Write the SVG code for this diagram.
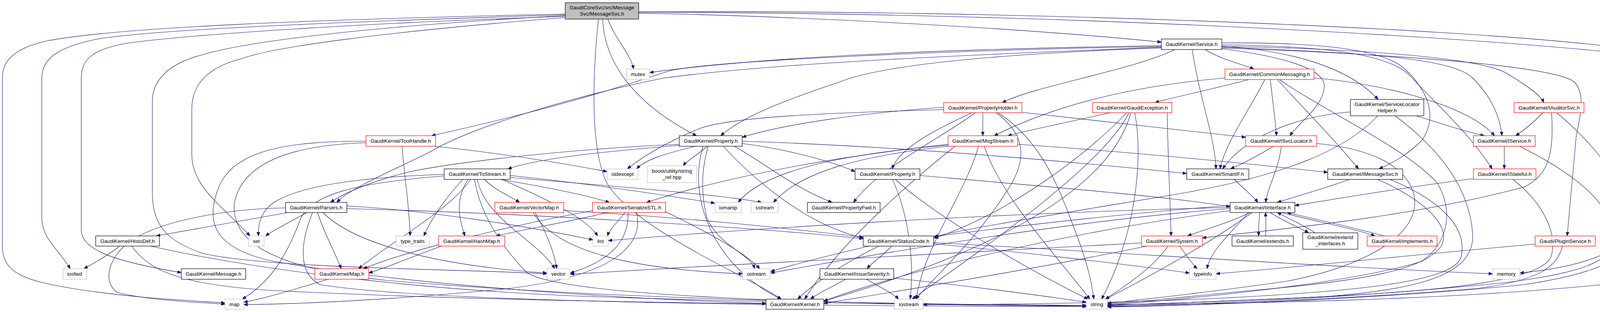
<svg xmlns="http://www.w3.org/2000/svg" width="4356" height="800" viewBox="0 0 4356 800">
<style>
.e path{fill:none;stroke:#191970;stroke-width:1.1;marker-end:url(#a)}
rect{fill:#fff;stroke:#000;stroke-width:1.2}
.r rect{stroke:#f00}
.g rect{stroke:#bfbfbf}
.root rect{fill:#bfbfbf}
text{font-family:"Liberation Sans",Arial,Helvetica,sans-serif;font-size:13.3px;text-anchor:middle;fill:#000}
</style>
<defs>
<marker id="a" markerUnits="userSpaceOnUse" markerWidth="11" markerHeight="8" refX="10" refY="4" orient="auto"><path d="M0,0 L10,4 L0,8 z" fill="#191970" stroke="#191970"/></marker>
</defs>
<rect x="0" y="0" width="4356" height="800" style="fill:#fff;stroke:none"/>
<g id="edges" class="e">
<path d="M1556,49 C1575,100 1615,140 1622,177"/>
<path d="M1635,34 C2000,40 2600,70 2973,108"/>
<path d="M1543,49 C1548,180 1650,280 1783,348"/>
<path d="M1447,36 C800,50 300,70 120,105 C30,125 6,160 6,200 L6,630 C6,700 60,720 200,742 C350,765 480,770 576,777"/>
<path d="M1447,38 C900,55 400,75 250,100 C150,120 107,150 107,200 L107,560 C107,610 150,640 180,689"/>
<path d="M1447,42 C900,60 480,90 330,110 C240,125 208,150 208,200 L208,590 C208,640 290,670 464,699"/>
<path d="M1447,40 C900,70 620,110 520,140 C440,160 390,200 390,260 L390,500 C392,580 430,620 520,650 C700,690 1200,690 1400,702"/>
<path d="M1447,45 C1000,80 700,120 620,150 C540,170 491,210 491,280 L491,400 C495,480 560,520 640,605"/>
<path d="M1635,30 C2600,25 3700,70 4112,118 Q4200,140 4200,195 L4200,540 C4200,620 4100,680 3891,700"/>
<path d="M1635,32 C2600,30 3800,90 4290,152 Q4340,170 4340,200 L4340,640 C4340,690 4250,705 4100,730 C3700,770 3200,778 2835,781"/>
<path d="M1532,49 C1516,200 1510,400 1560,480 C1650,600 1900,700 2000,767"/>
<path d="M2973,117 C2500,125 2000,140 1663,186"/>
<path d="M2973,119 C2400,130 1850,155 1720,180 C1650,200 1500,260 1105,348"/>
<path d="M2973,121 C2500,140 2000,160 1700,200 C1450,250 1200,330 1100,390 C1000,440 900,480 862,519"/>
<path d="M2973,123 C2500,140 2250,170 2150,210 C2000,260 1900,300 1845,348"/>
<path d="M3085,127 C3120,150 3180,165 3210,177"/>
<path d="M3008,127 C2900,180 2650,220 2566,263"/>
<path d="M3128,125 C3250,140 3390,170 3390,220 C3390,270 3330,310 3302,348"/>
<path d="M3128,118 C3300,130 3450,170 3528,255"/>
<path d="M3128,119 C3500,125 3800,150 3860,190 C3910,220 3945,245 3952,263"/>
<path d="M3128,121 C3500,135 3720,150 3770,200 C3820,250 3840,300 3845,348"/>
<path d="M3052,127 C3070,250 3110,350 3113,433"/>
<path d="M3128,123 C3600,140 3980,170 4030,210 C4060,240 4045,300 4035,350 L4012,605"/>
<path d="M3128,110 C3400,108 3550,130 3600,180 C3660,240 3680,300 3640,360 C3600,400 3560,420 3530,433"/>
<path d="M3128,115 C3400,118 3560,140 3610,195 C3680,270 3760,340 3820,433"/>
<path d="M1112,375 C1300,395 1450,420 1554,440"/>
<path d="M1029,375 C1035,450 1048,530 1050,605"/>
<path d="M937,362 C750,362 600,380 560,480 C520,580 560,640 700,670 C1100,740 1700,770 1961,778"/>
<path d="M937,366 C740,372 620,420 600,520 C590,620 700,690 1000,720 C1600,770 2300,780 2781,783"/>
<path d="M1745,372 C1600,385 1400,400 1300,433"/>
<path d="M1739,370 C1500,380 1200,410 1050,440 C950,465 880,495 846,519"/>
<path d="M1780,375 C1700,395 1650,410 1630,433"/>
<path d="M2416,281 C2100,290 1870,300 1790,330 C1730,355 1660,390 1606,433"/>
<path d="M1810,375 C1790,395 1760,410 1749,425"/>
<path d="M1813,375 C1800,420 1790,480 1810,560 C1840,630 1920,650 1932,689"/>
<path d="M1852,375 C1900,430 2000,520 2100,570 C2150,595 2190,605 2210,612"/>
<path d="M1880,375 C1960,420 2030,480 2130,519"/>
<path d="M1900,368 C2000,380 2120,410 2189,440"/>
<path d="M1900,362 C2300,375 2700,410 3038,445"/>
<path d="M1800,375 C1760,500 1820,680 2000,767"/>
<path d="M3197,204 C3100,230 3000,250 2957,263"/>
<path d="M3136,200 C2900,220 2700,270 2545,348"/>
<path d="M3252,204 C3258,260 3265,310 3268,348"/>
<path d="M3238,204 C3200,280 3140,360 3123,433"/>
<path d="M3270,204 C3320,260 3400,340 3478,433"/>
<path d="M3364,200 C3500,210 3750,260 3826,348"/>
<path d="M3275,204 C3400,290 3600,380 3680,470 C3720,540 3710,620 3640,670 C3450,730 3000,770 2835,782"/>
<path d="M2416,275 C2200,290 2000,320 1900,352"/>
<path d="M2516,289 L2516,348"/>
<path d="M2616,288 C2800,310 3000,330 3189,352"/>
<path d="M2488,289 C2400,330 2300,380 2284,433"/>
<path d="M2497,289 C2400,360 2250,430 2185,519"/>
<path d="M2550,289 C2620,340 2630,400 2590,470 C2500,620 2380,720 2345,767"/>
<path d="M2555,289 C2650,350 2700,450 2740,560 C2780,660 2795,720 2800,767"/>
<path d="M2842,289 C2750,310 2650,330 2580,348"/>
<path d="M2988,289 C2990,400 2995,500 2998,605"/>
<path d="M2884,289 C2800,380 2600,540 2392,611"/>
<path d="M2890,289 C2830,420 2500,650 2335,767"/>
<path d="M2905,289 C2930,420 2900,620 2820,767"/>
<path d="M2895,289 C2860,420 2700,600 2109,772"/>
<path d="M2427,370 C2200,395 1900,440 1655,519"/>
<path d="M2430,372 C2150,395 1950,440 1890,519"/>
<path d="M2435,374 C2200,400 2050,440 1980,519"/>
<path d="M2605,370 C2900,390 3200,420 3399,442"/>
<path d="M2505,375 C2470,500 2370,620 2345,767"/>
<path d="M2520,375 C2560,500 2700,650 2790,767"/>
<path d="M2445,375 C2350,450 2150,620 2060,767"/>
<path d="M3260,375 C3220,400 3180,420 3150,433"/>
<path d="M3280,375 C3275,430 3245,480 3240,519"/>
<path d="M3371,368 C3500,380 3600,420 3620,500 C3640,600 3500,680 3300,720 C3100,750 2900,770 2835,778"/>
<path d="M3625,297 C3700,320 3760,340 3800,348"/>
<path d="M3457,287 C3300,300 3180,360 3130,433"/>
<path d="M3527,297 C3450,380 3300,450 3000,500 C2700,550 2450,590 2390,608"/>
<path d="M3572,297 C3640,350 3760,450 3770,600 C3775,700 3650,740 3400,760 C3100,775 2900,780 2835,784"/>
<path d="M3950,289 C3920,320 3900,335 3880,348"/>
<path d="M3972,289 C3978,380 3970,450 3900,480 C3600,560 3250,590 3078,610"/>
<path d="M3985,289 C4060,350 4180,480 4180,580 C4180,660 4100,700 3900,730 C3500,770 3000,785 2835,786"/>
<path d="M3851,375 L3851,433"/>
<path d="M3890,375 C3980,420 4120,500 4130,600 C4140,670 4050,700 3850,725 C3400,770 3000,782 2835,785"/>
<path d="M3772,458 C3600,480 3450,505 3315,527"/>
<path d="M3873,460 C3950,520 3990,600 3970,660 C3940,720 3700,745 3400,760 C3100,775 2900,780 2835,783"/>
<path d="M3930,626 C3650,650 3380,680 3113,702"/>
<path d="M4000,631 C3985,690 3930,720 3780,740 C3400,770 3000,785 2835,787"/>
<path d="M3455,460 C3400,480 3330,500 3270,519"/>
<path d="M3526,460 C3620,500 3720,570 3690,630 C3650,690 3500,720 3200,745 C3000,765 2900,775 2835,780"/>
<path d="M3558,460 C3680,510 3760,580 3740,660 C3720,720 3500,750 3000,770 C2700,780 2500,781 2363,781"/>
<path d="M3200,545 C3150,570 3080,590 3040,605"/>
<path d="M3225,545 C3222,570 3222,590 3222,605"/>
<path d="M3240,605 C3242,580 3240,560 3240,545"/>
<path d="M3252,545 C3290,570 3330,585 3350,597"/>
<path d="M3367,597 C3340,580 3300,560 3270,545"/>
<path d="M3280,545 C3380,570 3480,590 3520,605"/>
<path d="M3544,605 C3470,585 3360,560 3295,545"/>
<path d="M3149,527 C2900,545 2600,580 2392,606"/>
<path d="M3149,535 C2800,560 2300,640 1973,700"/>
<path d="M3196,545 C3150,600 3100,640 3090,689"/>
<path d="M3149,540 C2700,600 2300,700 2109,772"/>
<path d="M3149,532 C2600,545 2000,580 1557,617"/>
<path d="M3205,545 C3130,600 3000,680 2830,767"/>
<path d="M2990,631 C2950,690 2870,740 2830,767"/>
<path d="M3020,631 C3040,660 3055,680 3065,689"/>
<path d="M2922,623 C2600,640 2000,670 1460,703"/>
<path d="M2936,631 C2700,680 2400,730 2109,778"/>
<path d="M2283,631 C2260,655 2230,675 2220,689"/>
<path d="M2250,631 C2150,680 2080,730 2042,767"/>
<path d="M2225,631 C2100,660 2010,685 1973,696"/>
<path d="M2390,625 C2650,650 2900,680 3045,700"/>
<path d="M2390,622 C2900,650 3500,690 3821,702"/>
<path d="M2165,716 C2120,740 2090,755 2075,767"/>
<path d="M2218,716 C2260,740 2290,755 2300,767"/>
<path d="M2288,713 C2450,730 2650,755 2781,775"/>
<path d="M306,631 C270,660 230,680 215,689"/>
<path d="M386,631 C600,680 1000,740 1500,760 C2100,780 2500,783 2781,784"/>
<path d="M337,631 C380,690 450,730 700,745 C1200,770 1700,775 1961,779"/>
<path d="M737,545 C600,570 480,590 400,605"/>
<path d="M786,545 C740,570 700,590 680,605"/>
<path d="M813,545 C830,600 860,650 873,689"/>
<path d="M731,533 C600,535 420,560 330,620 C280,660 260,720 300,750 C380,770 500,775 576,780"/>
<path d="M827,545 C900,620 1100,680 1400,700"/>
<path d="M888,528 C1100,540 1350,580 1518,615"/>
<path d="M888,535 C1300,545 1900,580 2210,612"/>
<path d="M800,545 C770,620 760,700 820,730 C1100,775 2000,785 2781,786"/>
<path d="M1130,631 C1050,660 980,690 944,700"/>
<path d="M1370,545 C1400,600 1420,650 1425,689"/>
<path d="M1365,545 C1420,640 1600,690 1901,702"/>
<path d="M1443,540 C1800,560 2050,590 2210,608"/>
<path d="M1556,545 C1450,570 1330,590 1270,605"/>
<path d="M1600,545 C1580,570 1560,590 1555,605"/>
<path d="M1608,545 C1610,620 1560,670 1460,700"/>
<path d="M1630,545 C1650,640 1550,710 1300,740 C1000,770 750,780 624,781"/>
<path d="M1704,543 C1780,580 1900,640 1945,689"/>
<path d="M1517,540 C1300,580 1050,640 930,689"/>
<path d="M1240,460 C1270,490 1310,505 1330,519"/>
<path d="M1280,460 C1400,480 1500,500 1560,519"/>
<path d="M1198,460 C1160,520 1180,570 1190,605"/>
<path d="M1306,450 C1500,470 1700,500 1830,521"/>
<path d="M1306,455 C1600,480 1850,500 1950,519"/>
<path d="M1137,447 C900,455 760,480 700,520 C665,545 660,580 662,605"/>
<path d="M1137,451 C900,470 800,500 770,560 C740,640 700,720 620,767"/>
<path d="M1285,460 C1420,520 1500,560 1530,605"/>
<path d="M1222,460 C1240,560 1380,620 1420,689"/>
<path d="M1185,460 C1130,520 1100,570 1085,605"/>
<path d="M1205,460 C1150,540 1000,620 918,689"/>
<path d="M1215,460 C1230,560 1300,650 1350,700 C1450,760 2100,780 2781,785"/>
<path d="M840,716 C760,740 680,765 624,775"/>
<path d="M3160,460 C3190,490 3210,505 3220,519"/>
<path d="M2355,450 C2700,480 3000,505 3149,530"/>
<path d="M2292,460 C2400,560 2650,700 2785,767"/>
<path d="M2285,460 C2330,560 2340,680 2330,767"/>
</g>
<g id="n_root" class="root"><rect x="1447" y="7" width="188" height="42"/><text x="1541" y="24">GaudiCoreSvc/src/Message</text><text x="1541" y="40">Svc/MessageSvc.h</text></g>
<g id="n_mutex" class="g"><rect x="1604" y="177" width="59" height="27"/><text x="1633.5" y="195">mutex</text></g>
<g id="n_service"><rect x="2973" y="100" width="155" height="27"/><text x="3050.5" y="118">GaudiKernel/Service.h</text></g>
<g id="n_toolhandle" class="r"><rect x="937" y="348" width="178" height="27"/><text x="1026" y="366">GaudiKernel/ToolHandle.h</text></g>
<g id="n_property"><rect x="1739" y="348" width="161" height="27"/><text x="1819.5" y="366">GaudiKernel/Property.h</text></g>
<g id="n_commonmessaging" class="r"><rect x="3136" y="177" width="228" height="27"/><text x="3250" y="195">GaudiKernel/CommonMessaging.h</text></g>
<g id="n_propertyholder" class="r"><rect x="2416" y="263" width="200" height="26"/><text x="2516" y="281">GaudiKernel/PropertyHolder.h</text></g>
<g id="n_gaudiexception" class="r"><rect x="2797" y="263" width="203" height="26"/><text x="2898.5" y="281">GaudiKernel/GaudiException.h</text></g>
<g id="n_msgstream" class="r"><rect x="2427" y="348" width="178" height="27"/><text x="2516" y="366">GaudiKernel/MsgStream.h</text></g>
<g id="n_isvclocator" class="r"><rect x="3189" y="348" width="182" height="27"/><text x="3280" y="366">GaudiKernel/ISvcLocator.h</text></g>
<g id="n_servicelocatorhelper"><rect x="3457" y="255" width="188" height="42"/><text x="3551" y="272">GaudiKernel/ServiceLocator</text><text x="3551" y="288">Helper.h</text></g>
<g id="n_iauditorsvc" class="r"><rect x="3876" y="263" width="179" height="26"/><text x="3965.5" y="281">GaudiKernel/IAuditorSvc.h</text></g>
<g id="n_iservice" class="r"><rect x="3772" y="348" width="158" height="27"/><text x="3851" y="366">GaudiKernel/IService.h</text></g>
<g id="n_tostream"><rect x="1137" y="433" width="169" height="27"/><text x="1221.5" y="451">GaudiKernel/ToStream.h</text></g>
<g id="n_stdexcept" class="g"><rect x="1554" y="433" width="79" height="27"/><text x="1593.5" y="451">stdexcept</text></g>
<g id="n_boost" class="g"><rect x="1657" y="425" width="126" height="43"/><text x="1720" y="443">boost/utility/string</text><text x="1720" y="459">_ref.hpp</text></g>
<g id="n_parsers"><rect x="731" y="519" width="157" height="26"/><text x="809.5" y="537">GaudiKernel/Parsers.h</text></g>
<g id="n_vectormap" class="r"><rect x="1267" y="519" width="176" height="26"/><text x="1355" y="537">GaudiKernel/VectorMap.h</text></g>
<g id="n_serializestl" class="r"><rect x="1517" y="519" width="187" height="26"/><text x="1610.5" y="537">GaudiKernel/SerializeSTL.h</text></g>
<g id="n_iomanip" class="g"><rect x="1830" y="519" width="68" height="26"/><text x="1864" y="537">iomanip</text></g>
<g id="n_sstream" class="g"><rect x="1923" y="519" width="69" height="26"/><text x="1957.5" y="537">sstream</text></g>
<g id="n_propertyfwd"><rect x="2067" y="519" width="186" height="26"/><text x="2160" y="537">GaudiKernel/PropertyFwd.h</text></g>
<g id="n_iproperty"><rect x="2189" y="433" width="166" height="27"/><text x="2272" y="451">GaudiKernel/IProperty.h</text></g>
<g id="n_smartif"><rect x="3038" y="433" width="159" height="27"/><text x="3117.5" y="451">GaudiKernel/SmartIF.h</text></g>
<g id="n_imessagesvc"><rect x="3399" y="433" width="192" height="27"/><text x="3495" y="451">GaudiKernel/IMessageSvc.h</text></g>
<g id="n_istateful" class="r"><rect x="3772" y="433" width="160" height="27"/><text x="3852" y="451">GaudiKernel/IStateful.h</text></g>
<g id="n_iinterface"><rect x="3149" y="519" width="166" height="26"/><text x="3232" y="537">GaudiKernel/IInterface.h</text></g>
<g id="n_histodef"><rect x="245" y="605" width="163" height="26"/><text x="326.5" y="623">GaudiKernel/HistoDef.h</text></g>
<g id="n_set" class="g"><rect x="636" y="605" width="40" height="26"/><text x="656" y="623">set</text></g>
<g id="n_hashmap" class="r"><rect x="1123" y="605" width="169" height="26"/><text x="1207.5" y="623">GaudiKernel/HashMap.h</text></g>
<g id="n_list" class="g"><rect x="1518" y="605" width="39" height="26"/><text x="1537.5" y="623">list</text></g>
<g id="n_type_traits" class="g"><rect x="1014" y="605" width="85" height="26"/><text x="1056.5" y="623">type_traits</text></g>
<g id="n_statuscode"><rect x="2210" y="605" width="180" height="26"/><text x="2300" y="623">GaudiKernel/StatusCode.h</text></g>
<g id="n_system" class="r"><rect x="2922" y="605" width="156" height="26"/><text x="3000" y="623">GaudiKernel/System.h</text></g>
<g id="n_extends"><rect x="3154" y="605" width="157" height="26"/><text x="3232.5" y="623">GaudiKernel/extends.h</text></g>
<g id="n_extend_interfaces"><rect x="3335" y="597" width="141" height="42"/><text x="3405.5" y="613">GaudiKernel/extend</text><text x="3405.5" y="629">_interfaces.h</text></g>
<g id="n_implements" class="r"><rect x="3500" y="605" width="179" height="26"/><text x="3589.5" y="623">GaudiKernel/implements.h</text></g>
<g id="n_pluginservice" class="r"><rect x="3930" y="605" width="154" height="26"/><text x="4007" y="623">Gaudi/PluginService.h</text></g>
<g id="n_iosfwd" class="g"><rect x="161" y="689" width="60" height="27"/><text x="191" y="707">iosfwd</text></g>
<g id="n_message"><rect x="464" y="689" width="165" height="27"/><text x="546.5" y="707">GaudiKernel/Message.h</text></g>
<g id="n_maph" class="r"><rect x="806" y="689" width="138" height="27"/><text x="875" y="707">GaudiKernel/Map.h</text></g>
<g id="n_vector" class="g"><rect x="1400" y="689" width="59" height="27"/><text x="1429.5" y="707">vector</text></g>
<g id="n_ostream" class="g"><rect x="1901" y="689" width="70" height="27"/><text x="1936" y="707">ostream</text></g>
<g id="n_issueseverity"><rect x="2099" y="689" width="189" height="27"/><text x="2193.5" y="707">GaudiKernel/IssueSeverity.h</text></g>
<g id="n_typeinfo" class="g"><rect x="3045" y="689" width="68" height="27"/><text x="3079" y="707">typeinfo</text></g>
<g id="n_memory" class="g"><rect x="3821" y="689" width="70" height="27"/><text x="3856" y="707">memory</text></g>
<g id="n_map" class="g"><rect x="576" y="767" width="48" height="26"/><text x="600" y="785">map</text></g>
<g id="n_kernel"><rect x="1961" y="767" width="148" height="26"/><text x="2035" y="785">GaudiKernel/Kernel.h</text></g>
<g id="n_iostream" class="g"><rect x="2290" y="767" width="73" height="26"/><text x="2326.5" y="785">iostream</text></g>
<g id="n_string" class="g"><rect x="2781" y="767" width="54" height="26"/><text x="2808" y="785">string</text></g>
</svg>
